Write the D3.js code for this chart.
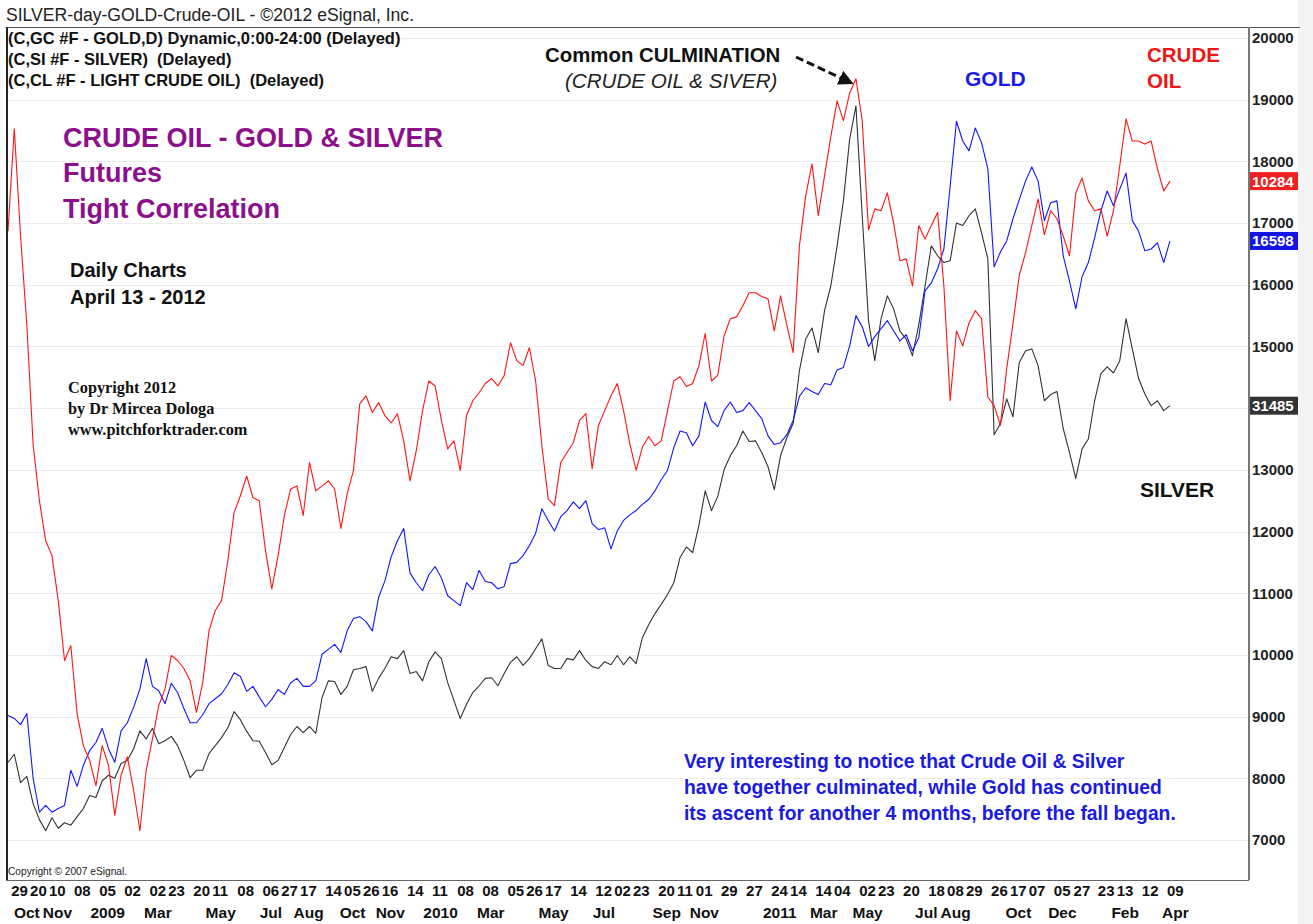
<!DOCTYPE html>
<html>
<head>
<meta charset="utf-8">
<script src="https://cdn.jsdelivr.net/npm/d3@7"></script>
<style>
body { margin: 0; background: #fff; }
svg { display: block; font-family: Arial, "Liberation Sans", Helvetica, sans-serif; }
</style>
</head>
<body>
<div id="chart"></div>
<script>
// weekly closes, all three drawn on the same (crude oil scaled) price axis
var startDate = new Date(2008, 8, 26);

var crude = [16870,18530,16790,15340,13410,12500,11850,11610,10880,9910,
    10150,9050,8530,8290,7880,8530,8210,7400,8050,8350,
    7800,7150,8130,8640,9180,9450,9990,9910,9780,9580,
    9070,9550,10390,10720,10880,11530,12310,12580,12900,12550,
    12500,11690,11070,11610,12260,12690,12740,12260,13120,12660,
    12740,12820,12690,12050,12610,12990,14070,14200,13930,14090,
    13880,13760,13910,13470,12820,13310,13960,14440,14360,13800,
    13340,13470,12990,13880,14120,14250,14400,14480,14360,14530,
    15060,14770,14690,14980,14440,13390,12530,12420,13120,13280,
    13440,13800,13910,13020,13720,13960,14200,14400,13960,13420,
    12990,13370,13540,13390,13470,13960,14440,14510,14350,14400,
    14690,15210,14440,14530,15170,15450,15480,15660,15870,15870,
    15810,15770,15250,15820,15340,14900,16630,17440,17960,17120,
    17770,18400,18980,18660,19110,19340,18660,16890,17230,17200,
    17490,17000,16390,16420,15980,16960,16740,16960,17170,15980,
    14120,15250,15010,15380,15580,15450,14180,14040,13720,14640,
    15370,16150,16520,16960,17390,16810,17200,17070,16790,16470,
    17490,17730,17360,17200,17230,16790,17200,17930,18690,18330,
    18330,18280,18330,17880,17520,17680];

var gold = [9020,8970,8870,9050,8000,7450,7560,7450,7510,7560,
    8130,7870,8210,8450,8580,8810,8480,8260,8770,8900,
    9150,9450,9940,9490,9420,9210,9540,9390,9130,8900,
    8900,9030,9210,9290,9370,9520,9710,9650,9410,9490,
    9320,9160,9280,9440,9360,9550,9620,9490,9490,9580,
    10010,10090,10170,10040,10390,10590,10620,10540,10390,10930,
    11200,11590,11850,12050,11330,11170,11040,11300,11430,11250,
    10960,10880,10800,11170,11060,11370,11190,11170,11070,11110,
    11480,11500,11610,11770,11970,12370,12180,12010,12240,12340,
    12480,12370,12500,12130,12030,12060,11720,12010,12180,12270,
    12340,12440,12520,12660,12840,12990,13360,13630,13600,13390,
    13550,14100,13800,13700,13960,14100,13930,13960,14090,13960,
    13830,13550,13410,13440,13570,13800,14190,14330,14270,14220,
    14400,14380,14620,14660,15010,15500,15320,15000,15160,15290,
    15420,15250,15090,15190,14930,15140,15900,16030,16260,16580,
    17600,18650,18330,18170,18540,18300,17880,16290,16530,16710,
    17070,17380,17680,17910,17680,17040,17330,17360,16470,16060,
    15610,16130,16360,16760,17200,17520,17280,17550,17810,17040,
    16870,16550,16580,16680,16360,16710];

var silver = [8260,8390,7930,8030,7590,7330,7150,7360,7190,7280,
    7240,7380,7510,7720,7690,7960,8050,8000,8240,8290,
    8480,8770,8640,8810,8560,8610,8680,8530,8290,8010,
    8130,8130,8400,8530,8660,8820,9080,8950,8760,8610,
    8600,8420,8220,8290,8500,8710,8840,8740,8840,8730,
    9310,9580,9570,9360,9490,9760,9780,9810,9410,9620,
    9780,9970,9940,10070,9700,9730,9580,9890,10050,9940,
    9550,9260,8970,9200,9390,9500,9620,9630,9500,9700,
    9880,9970,9830,9940,10100,10260,9830,9780,9780,9940,
    9920,10070,9910,9810,9780,9890,9840,9990,9840,9970,
    9860,10280,10490,10670,10820,10980,11170,11580,11750,11660,
    12100,12660,12340,12570,13000,13230,13390,13630,13460,13470,
    13280,13050,12680,13230,13520,13750,14610,15120,15300,14900,
    15580,15980,16630,17360,18360,18900,17120,15420,14770,15450,
    15820,15610,15250,15120,14850,15350,15980,16630,16470,16360,
    16390,17000,16960,17120,17230,16840,16420,13570,13750,14150,
    13860,14740,14930,14960,14690,14120,14220,14270,13670,13280,
    12860,13340,13500,14120,14560,14670,14570,14770,15450,14960,
    14480,14230,14040,14120,13960,14040];

// last quotes shown in the boxes on the price axis
var lastQuotes = ["10284", "16598", "31485"];

var yTicks = d3.range(7000, 20001, 1000);

var dayTicks = [
    ["2008-09-29","29"],["2008-10-20","20"],["2008-11-10","10"],["2008-12-08","08"],
    ["2009-01-05","05"],["2009-02-02","02"],["2009-03-02","02"],["2009-03-23","23"],
    ["2009-04-20","20"],["2009-05-11","11"],["2009-06-08","08"],["2009-07-06","06"],
    ["2009-07-27","27"],["2009-08-17","17"],["2009-09-14","14"],["2009-10-05","05"],
    ["2009-10-26","26"],["2009-11-16","16"],["2009-12-14","14"],["2010-01-11","11"],
    ["2010-02-08","08"],["2010-03-08","08"],["2010-04-05","05"],["2010-04-26","26"],
    ["2010-05-17","17"],["2010-06-14","14"],["2010-07-12","12"],["2010-08-02","02"],
    ["2010-08-23","23"],["2010-09-20","20"],["2010-10-11","11"],["2010-11-01","01"],
    ["2010-11-29","29"],["2010-12-27","27"],["2011-01-24","24"],["2011-02-14","14"],
    ["2011-03-14","14"],["2011-04-04","04"],["2011-05-02","02"],["2011-05-23","23"],
    ["2011-06-20","20"],["2011-07-18","18"],["2011-08-08","08"],["2011-08-29","29"],
    ["2011-09-26","26"],["2011-10-17","17"],["2011-11-07","07"],["2011-12-05","05"],
    ["2011-12-27","27"],["2012-01-23","23"],["2012-02-13","13"],["2012-03-12","12"],
    ["2012-04-09","09"]
];

var monthTicks = [
    ["2008-10-20","Oct"],["2008-11-10","Nov"],["2009-01-05","2009"],["2009-03-02","Mar"],
    ["2009-05-11","May"],["2009-07-06","Jul"],["2009-08-17","Aug"],["2009-10-05","Oct"],
    ["2009-11-16","Nov"],["2010-01-11","2010"],["2010-03-08","Mar"],["2010-05-17","May"],
    ["2010-07-12","Jul"],["2010-09-20","Sep"],["2010-11-01","Nov"],["2011-01-24","2011"],
    ["2011-03-14","Mar"],["2011-05-02","May"],["2011-07-18","Jul"],["2011-08-08","Aug"],
    ["2011-10-17","Oct"],["2011-12-05","Dec"],["2012-02-13","Feb"],["2012-04-09","Apr"]
];

var W = 1313, H = 924;
var plot = {left: 6, right: 1249, top: 27, bottom: 880};

var parse = d3.timeParse("%Y-%m-%d");
function weekDate(i) { return d3.timeDay.offset(startDate, 7 * i); }

var x = d3.scaleTime()
    .domain([startDate, weekDate(crude.length - 1)])
    .range([8, 1170]);

var y = d3.scaleLinear()
    .domain([7000, 20000])
    .range([840, 38]);

var series = [
    {name: "silver", values: silver, color: "#333333", box: "#333333", quote: lastQuotes[2]},
    {name: "gold",   values: gold,   color: "#1414ff", box: "#1414e6", quote: lastQuotes[1]},
    {name: "crude",  values: crude,  color: "#ff1414", box: "#ee2020", quote: lastQuotes[0]}
];

var svg = d3.select("#chart").append("svg")
    .attr("width", W)
    .attr("height", H);

// light strip on the far right
svg.append("rect")
    .attr("x", 1298).attr("y", 0).attr("width", W - 1298).attr("height", H)
    .attr("fill", "#f4f4f4");

// faint horizontal grid
svg.append("g").selectAll("line")
    .data(yTicks)
    .enter().append("line")
    .attr("x1", plot.left + 2).attr("x2", plot.right)
    .attr("y1", function (d) { return Math.round(y(d)) + 0.5; })
    .attr("y2", function (d) { return Math.round(y(d)) + 0.5; })
    .attr("stroke", "#ededed");

svg.append("clipPath").attr("id", "clip")
    .append("rect")
    .attr("x", plot.left + 1).attr("y", plot.top + 1)
    .attr("width", plot.right - plot.left - 1)
    .attr("height", plot.bottom - plot.top - 1);

var line = d3.line()
    .x(function (d, i) { return x(weekDate(i)); })
    .y(function (d) { return y(d); });

svg.append("g").attr("clip-path", "url(#clip)")
    .selectAll("path")
    .data(series)
    .enter().append("path")
    .attr("d", function (d) { return line(d.values); })
    .attr("fill", "none")
    .attr("stroke", function (d) { return d.color; })
    .attr("stroke-width", 1.1)
    .attr("stroke-linejoin", "round");

// price axis on the right
var gy = svg.append("g")
    .attr("transform", "translate(" + plot.right + ",0)")
    .call(d3.axisRight(y).tickValues(yTicks).tickSize(0).tickPadding(3).tickFormat(d3.format("d")));
gy.select(".domain").remove();
gy.selectAll("text")
    .attr("font-size", 15)
    .attr("font-weight", "bold")
    .attr("fill", "#222")
    .attr("font-family", "Arial, 'Liberation Sans', sans-serif");

// last quote boxes
var quotes = svg.append("g").selectAll("g")
    .data(series)
    .enter().append("g")
    .attr("transform", function (d) {
        return "translate(" + (plot.right + 1) + "," + y(d.values[d.values.length - 1]) + ")";
    });
quotes.append("rect")
    .attr("x", 0).attr("y", -9).attr("width", 48).attr("height", 18)
    .attr("fill", function (d) { return d.box; });
quotes.append("text")
    .attr("x", 2).attr("y", 0).attr("dy", "0.36em")
    .attr("font-size", 15).attr("font-weight", "bold").attr("fill", "#fff")
    .text(function (d) { return d.quote; });

// date axis: day row and month row
var gDay = svg.append("g")
    .attr("transform", "translate(0," + plot.bottom + ")")
    .call(d3.axisBottom(x)
        .tickValues(dayTicks.map(function (d) { return parse(d[0]); }))
        .tickSize(0).tickPadding(5)
        .tickFormat(function (d, i) { return dayTicks[i][1]; }));
gDay.select(".domain").remove();
gDay.selectAll("text")
    .attr("text-anchor", "start")
    .attr("font-size", 15).attr("font-weight", "bold").attr("fill", "#111")
    .attr("font-family", "Arial, 'Liberation Sans', sans-serif");

var gMonth = svg.append("g")
    .attr("transform", "translate(0," + plot.bottom + ")")
    .call(d3.axisBottom(x)
        .tickValues(monthTicks.map(function (d) { return parse(d[0]); }))
        .tickSize(0).tickPadding(27)
        .tickFormat(function (d, i) { return monthTicks[i][1]; }));
gMonth.select(".domain").remove();
gMonth.selectAll("text")
    .attr("dx", 8.5)
    .attr("font-size", 15.5).attr("font-weight", "bold").attr("fill", "#111")
    .attr("font-family", "Arial, 'Liberation Sans', sans-serif");

// push overlapping month labels apart (Jul/Aug)
var mNodes = gMonth.selectAll("text").nodes();
for (var i = mNodes.length - 2; i >= 0; i--) {
    var a = mNodes[i].getBoundingClientRect(), b = mNodes[i + 1].getBoundingClientRect();
    if (a.right > b.left - 3) {
        var shift = a.right - b.left + 3;
        var cur = +d3.select(mNodes[i]).attr("dx");
        d3.select(mNodes[i]).attr("dx", cur - shift);
    }
}

// frame
svg.append("line").attr("x1", plot.left).attr("x2", 1300).attr("y1", plot.top + 0.5).attr("y2", plot.top + 0.5)
    .attr("stroke", "#555").attr("stroke-width", 1.2);
svg.append("line").attr("x1", plot.left + 1).attr("x2", plot.left + 1).attr("y1", plot.top).attr("y2", plot.bottom)
    .attr("stroke", "#222").attr("stroke-width", 2);
svg.append("line").attr("x1", plot.right).attr("x2", plot.right).attr("y1", plot.top).attr("y2", plot.bottom)
    .attr("stroke", "#777").attr("stroke-width", 2);
svg.append("line").attr("x1", plot.left).attr("x2", plot.right).attr("y1", plot.bottom + 0.5).attr("y2", plot.bottom + 0.5)
    .attr("stroke", "#666").attr("stroke-width", 1.2);

function addText(tx, ty, str, size, weight, color, extra) {
    var t = svg.append("text")
        .attr("x", tx).attr("y", ty)
        .attr("font-size", size)
        .attr("font-weight", weight)
        .attr("fill", color)
        .style("white-space", "pre")
        .text(str);
    if (extra) extra(t);
    return t;
}

addText(6, 21, "SILVER-day-GOLD-Crude-OIL - \u00a92012 eSignal, Inc.", 17.6, "normal", "#222");
addText(8, 44, "(C,GC #F - GOLD,D) Dynamic,0:00-24:00 (Delayed)", 16.5, "bold", "#111");
addText(8, 65, "(C,SI #F - SILVER)  (Delayed)", 16.5, "bold", "#111");
addText(8, 86, "(C,CL #F - LIGHT CRUDE OIL)  (Delayed)", 16.5, "bold", "#111");

var purple = "#8c108c";
addText(63, 147, "CRUDE OIL - GOLD & SILVER", 27, "bold", purple);
addText(63, 182, "Futures", 27, "bold", purple);
addText(63, 218, "Tight Correlation", 27, "bold", purple);

addText(70, 277, "Daily Charts", 20, "bold", "#111");
addText(70, 304, "April 13 - 2012", 20, "bold", "#111");

var serif = "'Times New Roman', 'Liberation Serif', serif";
addText(68, 393, "Copyright 2012", 16.3, "bold", "#111", function (t) { t.attr("font-family", serif); });
addText(68, 414, "by Dr Mircea Dologa", 16.3, "bold", "#111", function (t) { t.attr("font-family", serif); });
addText(68, 435, "www.pitchforktrader.com", 16.3, "bold", "#111", function (t) { t.attr("font-family", serif); });

addText(545, 62, "Common CULMINATION", 20.4, "bold", "#111");
addText(565, 88, "(CRUDE OIL & SIVER)", 20.6, "normal", "#222", function (t) { t.attr("font-style", "italic"); });

addText(965, 86, "GOLD", 21, "bold", "#1a1ae8");
addText(1147, 62, "CRUDE", 20.5, "bold", "#f01414");
addText(1147, 88, "OIL", 20.5, "bold", "#f01414");
addText(1140, 497, "SILVER", 21, "bold", "#111");

var blue = "#1a1ae0";
addText(684, 768, "Very interesting to notice that Crude Oil & Silver", 19.3, "bold", blue);
addText(684, 794, "have together culminated, while Gold has continued", 19.3, "bold", blue);
addText(684, 820, "its ascent for another 4 months, before the fall began.", 19.3, "bold", blue);

addText(8, 875, "Copyright \u00a9 2007 eSignal.", 10.2, "normal", "#222");

// dashed arrow to the common top
var peakIdx = d3.maxIndex(crude);
var tipX = x(weekDate(peakIdx)) - 5, tipY = y(crude[peakIdx]) + 4;
svg.append("defs").append("marker")
    .attr("id", "head")
    .attr("viewBox", "0 0 10 10")
    .attr("refX", 8).attr("refY", 5)
    .attr("markerWidth", 5).attr("markerHeight", 5)
    .attr("orient", "auto")
    .append("path").attr("d", "M0,0L10,5L0,10z").attr("fill", "#111");
svg.append("line")
    .attr("x1", 796).attr("y1", 57)
    .attr("x2", tipX).attr("y2", tipY)
    .attr("stroke", "#111").attr("stroke-width", 3)
    .attr("stroke-dasharray", "8,4")
    .attr("marker-end", "url(#head)");
</script>
</body>
</html>
